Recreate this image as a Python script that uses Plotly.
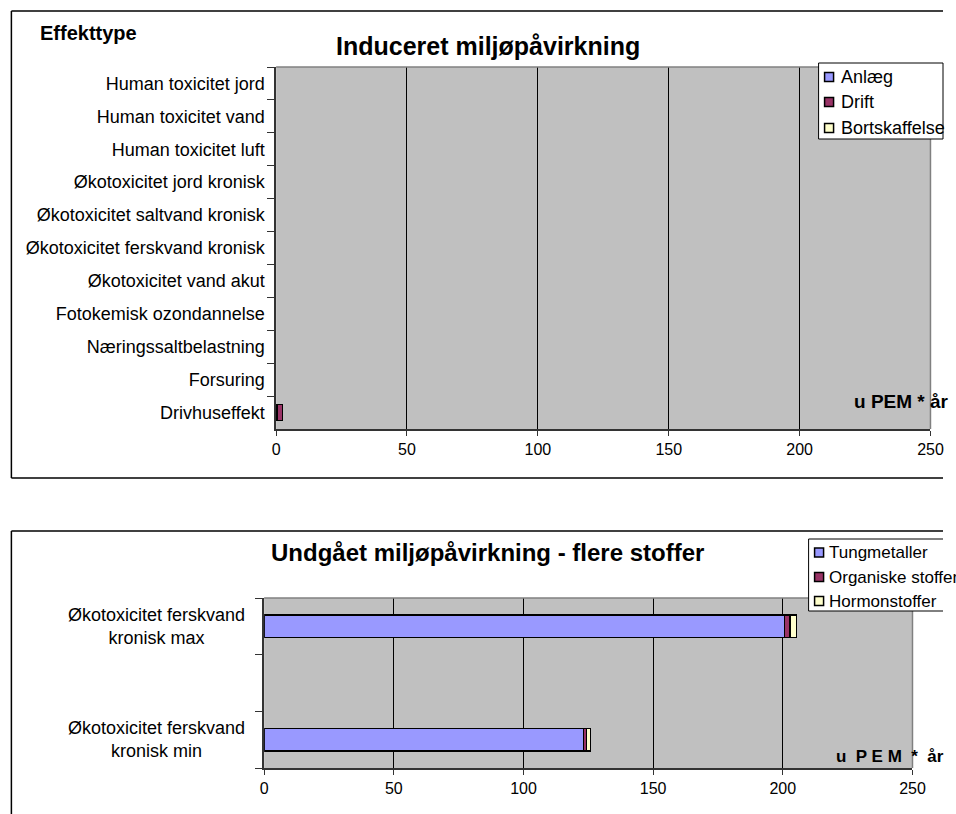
import plotly.graph_objects as go

# data (bottom-up, like the source sheet)
induced_categories = [
    "Drivhuseffekt",
    "Forsuring",
    "Næringssaltbelastning",
    "Fotokemisk ozondannelse",
    "Økotoxicitet vand akut",
    "Økotoxicitet ferskvand kronisk",
    "Økotoxicitet saltvand kronisk",
    "Økotoxicitet jord kronisk",
    "Human toxicitet luft",
    "Human toxicitet vand",
    "Human toxicitet jord",
]
induced_series = ["Anlæg", "Drift", "Bortskaffelse"]
anlaeg = [0.3, 0, 0, 0, 0, 0, 0, 0, 0, 0, 0]
drift = [2.1, 0, 0, 0, 0, 0, 0, 0, 0, 0, 0]
bortskaffelse = [0.1, 0, 0, 0, 0, 0, 0, 0, 0, 0, 0]

avoided_categories = ["kronisk min", " ", "kronisk max"]
avoided_labels = [
    "Økotoxicitet ferskvand<br>kronisk min",
    "",
    "Økotoxicitet ferskvand<br>kronisk max",
]
avoided_series = ["Tungmetaller", "Organiske stoffer", "Hormonstoffer"]
tungmetaller = [123.1, None, 200.8]
organiske = [1.3, None, 2.0]
hormonstoffer = [1.5, None, 2.6]

x_ticks = [0, 50, 100, 150, 200, 250]

W, H = 956, 814
FONT = "Arial, Liberation Sans, sans-serif"
PLOT_BG = "#C0C0C0"
COLORS = ["#9999FF", "#993366", "#FFFFCC"]

# the capture comes out slightly narrower than the page, so positions are
# given in picture pixels and mapped back here
SQUEEZE, SHIFT = 0.9832, 2.6


def px_x(v):
    return min(1.0, (v - SHIFT) / SQUEEZE / W)


def px_y(v):
    return 1 - v / H


fig = go.Figure()

for name, vals, col in zip(induced_series, [anlaeg, drift, bortskaffelse], COLORS):
    fig.add_trace(
        go.Bar(
            y=induced_categories,
            x=vals,
            orientation="h",
            name=name,
            marker=dict(color=col, line=dict(color="black", width=[1.2 if v else 0 for v in vals])),
            xaxis="x",
            yaxis="y",
            showlegend=False,
        )
    )

for name, vals, col in zip(avoided_series, [tungmetaller, organiske, hormonstoffer], COLORS):
    fig.add_trace(
        go.Bar(
            y=avoided_categories,
            x=vals,
            orientation="h",
            name=name,
            width=0.4,
            marker=dict(color=col, line=dict(color="black", width=1.2)),
            xaxis="x2",
            yaxis="y2",
            showlegend=False,
        )
    )

axis_common = dict(
    range=[0, 250],
    tickvals=x_ticks,
    showgrid=True,
    gridcolor="black",
    gridwidth=1,
    zeroline=False,
    showline=True,
    linecolor="#333333",
    linewidth=1.5,
    ticks="outside",
    ticklen=5,
    tickcolor="#333333",
    fixedrange=True,
)
yaxis_common = dict(
    type="category",
    categoryorder="array",
    tickson="boundaries",
    ticks="outside",
    ticklen=7,
    tickcolor="#333333",
    showline=True,
    linecolor="#333333",
    linewidth=1.5,
    showgrid=False,
    fixedrange=True,
)

fig.update_layout(
    width=W,
    height=H,
    autosize=False,
    margin=dict(l=0, r=0, t=0, b=0),
    paper_bgcolor="white",
    plot_bgcolor=PLOT_BG,
    barmode="stack",
    bargap=0.5,
    font=dict(family=FONT, color="black"),
    showlegend=False,
    xaxis=dict(domain=[px_x(275), px_x(930)], anchor="y", tickfont=dict(size=16), **axis_common),
    yaxis=dict(
        domain=[px_y(429), px_y(67)],
        anchor="x",
        categoryarray=induced_categories,
        range=[-0.5, len(induced_categories) - 0.5],
        tickfont=dict(size=18),
        ticklabelstandoff=6,
        **yaxis_common,
    ),
    xaxis2=dict(domain=[px_x(263), px_x(912)], anchor="y2", tickfont=dict(size=16), **axis_common),
    yaxis2=dict(
        domain=[px_y(768), px_y(598)],
        anchor="x2",
        categoryarray=avoided_categories,
        range=[-0.5, 2.5],
        showticklabels=False,
        **yaxis_common,
    ),
)

frame = dict(color="black", width=1.5)
shapes = [
    # chart area frames (the right side is cut off in the original)
    dict(type="line", xref="paper", yref="paper", x0=px_x(10), x1=1, y0=px_y(11), y1=px_y(11), line=frame),
    dict(type="line", xref="paper", yref="paper", x0=px_x(10), x1=1, y0=px_y(478), y1=px_y(478), line=frame),
    dict(type="line", xref="paper", yref="paper", x0=px_x(10), x1=px_x(10), y0=px_y(11), y1=px_y(478), line=frame),
    dict(type="line", xref="paper", yref="paper", x0=px_x(10), x1=1, y0=px_y(531), y1=px_y(531), line=frame),
    dict(type="line", xref="paper", yref="paper", x0=px_x(10), x1=px_x(10), y0=px_y(531), y1=0, line=frame),
    # plot area top/right borders (grey)
    dict(type="line", xref="x domain", yref="y domain", x0=0, x1=1, y0=1, y1=1, line=dict(color="#808080", width=1.5)),
    dict(type="line", xref="x domain", yref="y domain", x0=1, x1=1, y0=0, y1=1, line=dict(color="#808080", width=1.5)),
    dict(type="line", xref="x2 domain", yref="y2 domain", x0=0, x1=1, y0=1, y1=1, line=dict(color="#808080", width=1.5)),
    dict(type="line", xref="x2 domain", yref="y2 domain", x0=1, x1=1, y0=0, y1=1, line=dict(color="#808080", width=1.5)),
]

annotations = [
    dict(text="<b>Induceret miljøpåvirkning</b>", x=px_x(487), y=px_y(46), xref="paper", yref="paper",
         showarrow=False, font=dict(size=25), xanchor="center", yanchor="middle"),
    dict(text="<b>Effekttype</b>", x=px_x(37), y=px_y(33), xref="paper", yref="paper",
         showarrow=False, font=dict(size=20), xanchor="left", yanchor="middle"),
    dict(text="<b>u PEM * år</b>", x=px_x(851), y=px_y(401), xref="paper", yref="paper",
         showarrow=False, font=dict(size=19), xanchor="left", yanchor="middle"),
    dict(text="<b>Undgået miljøpåvirkning - flere stoffer</b>", x=px_x(487), y=px_y(552), xref="paper",
         yref="paper", showarrow=False, font=dict(size=24), xanchor="center", yanchor="middle"),
    dict(text="<b>u  P E M  *  år</b>", x=px_x(833), y=px_y(756), xref="paper", yref="paper",
         showarrow=False, font=dict(size=17), xanchor="left", yanchor="middle"),
]
for cat, lab in zip(avoided_categories, avoided_labels):
    if lab:
        annotations.append(
            dict(text=lab, x=px_x(155), y=cat, xref="paper", yref="y2", showarrow=False,
                 font=dict(size=18), align="center", xanchor="center", yanchor="middle")
        )


# legends drawn as in the Excel original: small framed box, tight squares
def add_legend(names, box, sym_x, text_x, rows, size, sym, closed=True):
    x0, y0, x1, y1 = box
    edge = dict(color="black", width=1)
    shapes.append(dict(type="rect", xref="paper", yref="paper", x0=px_x(x0), x1=px_x(x1), y0=px_y(y1),
                       y1=px_y(y0), line=dict(width=0), fillcolor="white"))
    shapes.append(dict(type="line", xref="paper", yref="paper", x0=px_x(x0), x1=px_x(x1), y0=px_y(y0), y1=px_y(y0), line=edge))
    shapes.append(dict(type="line", xref="paper", yref="paper", x0=px_x(x0), x1=px_x(x1), y0=px_y(y1), y1=px_y(y1), line=edge))
    shapes.append(dict(type="line", xref="paper", yref="paper", x0=px_x(x0), x1=px_x(x0), y0=px_y(y0), y1=px_y(y1), line=edge))
    if closed:
        shapes.append(dict(type="line", xref="paper", yref="paper", x0=px_x(x1), x1=px_x(x1), y0=px_y(y0), y1=px_y(y1), line=edge))
    for name, col, cy in zip(names, COLORS, rows):
        shapes.append(dict(type="rect", xref="paper", yref="paper", x0=px_x(sym_x), x1=px_x(sym_x + sym),
                           y0=px_y(cy + sym / 2), y1=px_y(cy - sym / 2),
                           line=dict(color="black", width=1.5), fillcolor=col))
        annotations.append(dict(text=name, x=px_x(text_x), y=px_y(cy), xref="paper", yref="paper",
                                showarrow=False, font=dict(size=size), xanchor="left", yanchor="middle"))


add_legend(induced_series, (818, 63, 954, 139), 824, 838, [77, 102, 128], 18, 9)
add_legend(avoided_series, (808, 539, 970, 611), 814, 826, [552.5, 577, 601], 17, 9, closed=False)

fig.update_layout(shapes=shapes, annotations=annotations)

fig.write_html(
    "out.html",
    config={"displayModeBar": False, "responsive": False},
    post_script=(
        "document.documentElement.style.overflow='hidden';"
        "document.body.style.margin='0px';document.body.style.overflow='hidden';"
    ),
)
